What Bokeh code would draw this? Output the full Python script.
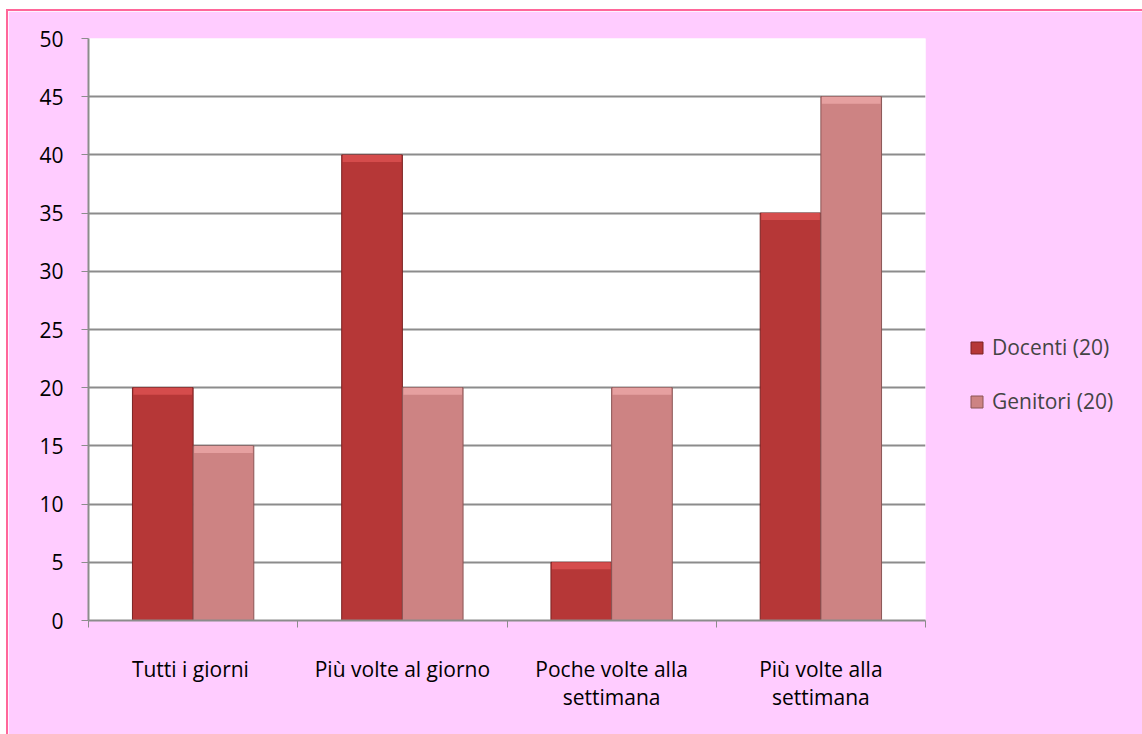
from bokeh.plotting import figure
from bokeh.models import ColumnDataSource, FixedTicker, Legend, LegendItem, Range1d
from bokeh.embed import file_html
from bokeh.resources import INLINE

categories = ["Tutti  i giorni", "Più volte al giorno", "Poche volte alla\nsettimana", "Più volte alla\nsettimana"]
docenti = [20, 40, 5, 35]
genitori = [15, 20, 20, 45]
series_names = ["Docenti (20)", "Genitori (20)"]
y_ticks = [0, 5, 10, 15, 20, 25, 30, 35, 40, 45, 50]

centers = [i + 0.5 for i in range(len(categories))]
bw = 0.29
cap = 0.6
src = ColumnDataSource(dict(
    xd=[c - bw / 2 for c in centers],
    xg=[c + bw / 2 for c in centers],
    d=docenti, g=genitori,
    dcap=[v - cap for v in docenti], gcap=[v - cap for v in genitori],
))

PINK = "#FFCCFF"
FONT = "Open Sans"
FS = "21px"

p = figure(frame_width=837, frame_height=582, output_backend="svg", toolbar_location=None,
           x_range=Range1d(0, len(categories)), y_range=Range1d(0, 50),
           min_border_left=80, min_border_top=27, min_border_right=217, min_border_bottom=114)
p.margin = (9, 0, 0, 6)
p.styles = {"border-left": "2px solid #FF6699", "border-top": "2px solid #FF6699"}
p.background_fill_color = "white"
p.border_fill_color = PINK
p.outline_line_color = None

p.ygrid.ticker = FixedTicker(ticks=y_ticks)
p.ygrid.grid_line_color = "#8C8C8C"
p.ygrid.grid_line_width = 2
p.xgrid.grid_line_color = None

rd = p.vbar(x="xd", top="d", width=bw, source=src, fill_color="#B63737", line_color="#7A2222", line_width=1)
rg = p.vbar(x="xg", top="g", width=bw, source=src, fill_color="#CD8383", line_color="#8A5555", line_width=1)
p.vbar(x="xd", top="d", bottom="dcap", width=bw - 0.01, source=src, fill_color="#D54C4C", line_color=None)
p.vbar(x="xg", top="g", bottom="gcap", width=bw - 0.01, source=src, fill_color="#E6A0A0", line_color=None)

# x axis
xa = p.xaxis[0]
xa.ticker = FixedTicker(ticks=centers, minor_ticks=list(range(len(categories) + 1)))
xa.major_label_overrides = {c: lab for c, lab in zip(centers, categories)}
xa.major_tick_out = 0
xa.major_tick_in = 0
xa.minor_tick_out = 7
xa.minor_tick_in = 0
xa.minor_tick_line_color = "#8C8C8C"
xa.axis_line_color = "#8C8C8C"
xa.axis_line_width = 2
xa.major_label_standoff = 27
xa.major_label_text_font = FONT
xa.major_label_text_font_size = FS
xa.major_label_text_color = "black"
xa.major_label_text_line_height = 1.0

# y axis
ya = p.yaxis[0]
ya.ticker = FixedTicker(ticks=y_ticks)
ya.minor_tick_line_color = None
ya.major_tick_out = 7
ya.major_tick_in = 0
ya.major_tick_line_color = "#8C8C8C"
ya.axis_line_color = "#8C8C8C"
ya.axis_line_width = 2
ya.major_label_standoff = 18
ya.major_label_text_font = FONT
ya.major_label_text_font_size = FS
ya.major_label_text_color = "black"

legend = Legend(items=[LegendItem(label=series_names[0], renderers=[rd]),
                       LegendItem(label=series_names[1], renderers=[rg])],
                location=(44, 205), background_fill_alpha=0, border_line_color=None,
                glyph_width=15, glyph_height=15, label_height=24, spacing=26, padding=4,
                label_text_font=FONT, label_text_font_size=FS, label_standoff=8)
p.add_layout(legend, "right")

open("out.html", "w").write(file_html(p, INLINE))
